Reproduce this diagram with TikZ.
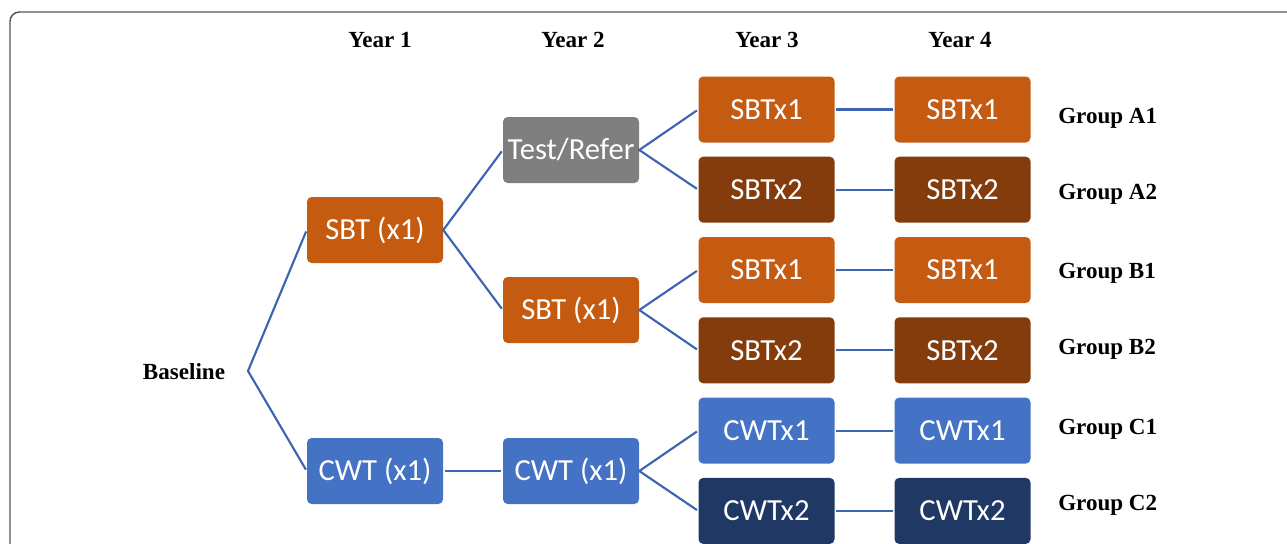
\documentclass[tikz,border=0pt]{standalone}
\usepackage{fontspec}
\setmainfont{Liberation Serif}
\newfontfamily\boxfont{Carlito}
\usetikzlibrary{positioning}
\definecolor{sbtone}{HTML}{C55A11}
\definecolor{sbttwo}{HTML}{843C0C}
\definecolor{cwtone}{HTML}{4472C4}
\definecolor{cwttwo}{HTML}{203864}
\definecolor{testgrey}{HTML}{7F7F7F}
\definecolor{linkblue}{HTML}{3C64B1}
\definecolor{framegrey}{HTML}{555555}
\tikzset{
	arm/.style={rounded corners=3.5pt, minimum width=102pt, minimum height=49.5pt,
		inner sep=0pt, text=white, font=\boxfont\fontsize{23}{27}\selectfont},
	link/.style={draw=linkblue, line width=1.6pt, shorten <=1.2pt, shorten >=1.2pt},
	yearlab/.style={font=\bfseries\fontsize{17.3}{20}\selectfont, inner sep=0pt},
	grplab/.style={font=\bfseries\fontsize{17.3}{20}\selectfont, inner sep=0pt, anchor=west}
}
\begin{document}
\begin{tikzpicture}[x=0.75pt, y=-0.75pt]
		\useasboundingbox (0,0) rectangle (1287,543);
		\clip (0,0) rectangle (1287,543);
		\draw[framegrey, line width=1.1pt, rounded corners=7pt] (10,600)--(10,12)--(1330,12);
		% years
		\foreach \i/\x in {1/380, 2/573, 3/767, 4/960}
			\node[yearlab] (year\i) at (\x,40) {Year \i};
		% first two years
		\node[yearlab] (baselab) at (184,372) {Baseline};
		\coordinate (base) at (248,371);
		\node[arm, fill=sbtone] (sbtone) at (375,230) {SBT (x1)};
		\node[arm, fill=cwtone] (cwtone) at (375,471) {CWT (x1)};
		\node[arm, fill=testgrey] (test) at (571,150) {Test/Refer};
		\node[arm, fill=sbtone] (sbttwo) at (571,310) {SBT (x1)};
		\node[arm, fill=cwtone] (cwttwo) at (571,471) {CWT (x1)};
		\draw[link] (sbtone.west)--(base)--(cwtone.west);
		\draw[link] (test.west)--(sbtone.east)--(sbttwo.west);
		\draw[link] (cwtone)--(cwttwo);
		% years 3 and 4
		\foreach \n/\y/\t/\c/\g/\gy in {a1/109.5/SBTx1/sbtone/A1/118, a2/189.7/SBTx2/sbttwo/A2/194,
			b1/270/SBTx1/sbtone/B1/273, b2/350.3/SBTx2/sbttwo/B2/349,
			c1/430.6/CWTx1/cwtone/C1/429, c2/510.9/CWTx2/cwttwo/C2/505}{
			\node[arm, fill=\c] (three\n) at (766.5,\y) {\t};
			\node[arm, fill=\c] (four\n) at (962.5,\y) {\t};
			\node[grplab] (group\n) at (1058,\gy) {Group \g};
			\draw[link] (three\n)--(four\n);
		}
		\draw[link] (threea1.west)--(test.east)--(threea2.west);
		\draw[link] (threeb1.west)--(sbttwo.east)--(threeb2.west);
		\draw[link] (threec1.west)--(cwttwo.east)--(threec2.west);
	\end{tikzpicture}
\end{document}
